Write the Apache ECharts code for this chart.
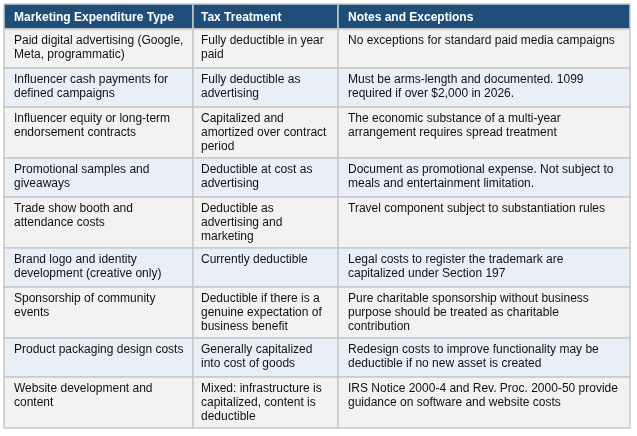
<!DOCTYPE html>
<html>
<head>
<meta charset="utf-8">
<script src="https://cdn.jsdelivr.net/npm/echarts@6/dist/echarts.min.js"></script>
<style>
    html, body { margin: 0; padding: 0; background: #ffffff; }
    #myTable { width: 637px; height: 436px; }
</style>
</head>
<body>
<div id="myTable"></div>
<script>
"use strict";

// table content (line breaks as shown)
var headers = ['Marketing Expenditure Type', 'Tax Treatment', 'Notes and Exceptions'];

var expenditureTypes = [
    'Paid digital advertising (Google,\nMeta, programmatic)',
    'Influencer cash payments for\ndefined campaigns',
    'Influencer equity or long-term\nendorsement contracts',
    'Promotional samples and\ngiveaways',
    'Trade show booth and\nattendance costs',
    'Brand logo and identity\ndevelopment (creative only)',
    'Sponsorship of community\nevents',
    'Product packaging design costs',
    'Website development and\ncontent'
];

var taxTreatments = [
    'Fully deductible in year\npaid',
    'Fully deductible as\nadvertising',
    'Capitalized and\namortized over contract\nperiod',
    'Deductible at cost as\nadvertising',
    'Deductible as\nadvertising and\nmarketing',
    'Currently deductible',
    'Deductible if there is a\ngenuine expectation of\nbusiness benefit',
    'Generally capitalized\ninto cost of goods',
    'Mixed: infrastructure is\ncapitalized, content is\ndeductible'
];

var notes = [
    'No exceptions for standard paid media campaigns',
    'Must be arms-length and documented. 1099\nrequired if over $2,000 in 2026.',
    'The economic substance of a multi-year\narrangement requires spread treatment',
    'Document as promotional expense. Not subject to\nmeals and entertainment limitation.',
    'Travel component subject to substantiation rules',
    'Legal costs to register the trademark are\ncapitalized under Section 197',
    'Pure charitable sponsorship without business\npurpose should be treated as charitable\ncontribution',
    'Redesign costs to improve functionality may be\ndeductible if no new asset is created',
    'IRS Notice 2000-4 and Rev. Proc. 2000-50 provide\nguidance on software and website costs'
];

// layout
var colWidths = [189, 145, 292];
var headerHeight = 25;
var FONT = '"Liberation Sans", Arial, sans-serif';

var colEdges = [0];
for (var c = 0; c < colWidths.length; c++) {
    colEdges.push(colEdges[c] + colWidths[c]);
}
var tableWidth = colEdges[colEdges.length - 1];

function lineCount(s) {
    return s.split('\n').length;
}

// row list: header first, then body rows; heights follow the number of lines
var rows = [headers];
for (var i = 0; i < expenditureTypes.length; i++) {
    rows.push([expenditureTypes[i], taxTreatments[i], notes[i]]);
}

var rowData = [];
var rowTop = 0;
for (var r = 0; r < rows.length; r++) {
    var h;
    if (r === 0) {
        h = headerHeight;
    } else {
        var n = Math.max(lineCount(rows[r][0]), lineCount(rows[r][1]), lineCount(rows[r][2]));
        h = 15 + 12 * n;
    }
    rowData.push([r, rowTop, h]);
    rowTop += h;
}
var tableHeight = rowTop;

function renderRow(params, api) {
    var r = api.value(0);
    var y0 = api.value(1);
    var h = api.value(2);
    var isHeader = r === 0;
    var fill = isHeader ? '#1f4e79' : (r % 2 === 1 ? '#f2f2f2' : '#e9eff7');
    var children = [];
    for (var c = 0; c < colWidths.length; c++) {
        var p1 = api.coord([colEdges[c], y0]);
        var p2 = api.coord([colEdges[c + 1], y0 + h]);
        children.push({
            type: 'rect',
            shape: { x: p1[0], y: p1[1], width: p2[0] - p1[0], height: p2[1] - p1[1] },
            style: { fill: fill, stroke: '#c9c9c9', lineWidth: 1.5 }
        });
        children.push({
            type: 'text',
            style: {
                text: rows[r][c],
                x: p1[0] + (c === 1 ? 8 : 10),
                y: isHeader ? (p1[1] + p2[1]) / 2 + 1 : p1[1] + 5,
                fill: isHeader ? '#ffffff' : '#111111',
                fontFamily: FONT,
                fontSize: 12,
                fontWeight: isHeader ? 'bold' : 'normal',
                lineHeight: 14,
                align: 'left',
                verticalAlign: isHeader ? 'middle' : 'top'
            }
        });
    }
    return { type: 'group', children: children };
}

var myChart = echarts.init(document.getElementById('myTable'));

var option = {
    animation: false,
    grid: { left: 4, top: 4, width: tableWidth, height: tableHeight },
    xAxis: { type: 'value', min: 0, max: tableWidth, show: false },
    yAxis: { type: 'value', min: 0, max: tableHeight, inverse: true, show: false },
    series: [{
        type: 'custom',
        renderItem: renderRow,
        clip: false,
        data: rowData
    }]
};

myChart.setOption(option);
</script>
</body>
</html>
